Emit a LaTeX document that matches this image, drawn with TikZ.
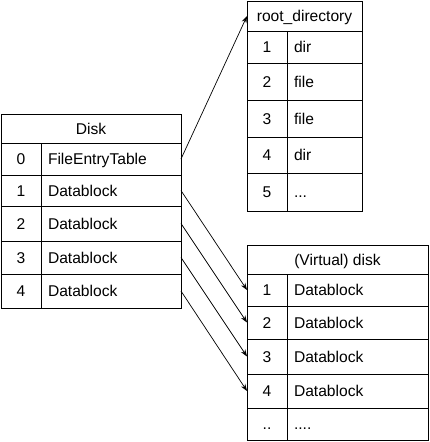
\documentclass[tikz,border=0pt]{standalone}
\usepackage{fontspec}
\setmainfont{Liberation Sans}
\usepackage{tikz}
\usetikzlibrary{positioning}
\usetikzlibrary{arrows.meta}
\tikzset{cell/.style={draw, line width=0.9pt, anchor=north west, outer sep=0pt, inner ysep=0pt,
  text height=11pt, text depth=0pt, font=\fontsize{15.6}{18}\selectfont}}
\tikzset{head/.style={cell, inner xsep=0pt, align=center}}
\tikzset{numcell/.style={cell, inner xsep=0pt, minimum width=40pt, align=center}}
\tikzset{txtcell/.style={cell, inner xsep=7pt, align=left}}
\tikzset{arr/.style={-{Stealth[length=7pt,width=5pt]}, line width=0.7pt}}

\begin{document}
\begin{tikzpicture}[x=1pt,y=-1pt]
\useasboundingbox (0,0) rectangle (429,442);
% Disk
\node[head, minimum width=180pt, minimum height=29pt] (disk) at (1,114) {Disk};
\foreach \i/\t/\y/\h in {0/FileEntryTable/143/32, 1/Datablock/175/31, 2/Datablock/206/35, 3/Datablock/241/33, 4/Datablock/274/34} {
\node[numcell, minimum height=\h pt] (dn\i) at (1,\y) {\i};
\node[txtcell, text width=126pt, minimum height=\h pt] (d\i) at (41,\y) {\t};
}
% root_directory
\node[head, minimum width=115pt, minimum height=30pt] (root) at (247,1) {root\_directory};
\foreach \i/\t/\y/\h in {1/dir/31/32, 2/file/63/37, 3/file/100/37, 4/dir/137/36} {
\node[numcell, minimum height=\h pt] (rn\i) at (247,\y) {\i};
\node[txtcell, text width=61pt, minimum height=\h pt] (r\i) at (287,\y) {\t};
}
\node[numcell, minimum height=38pt] (rn5) at (247,173) {5};
\node[txtcell, text width=61pt, minimum height=38pt] (r5) at (287,173) {...};
% (Virtual) disk
\node[head, minimum width=181pt, minimum height=29pt] (vdisk) at (247,245) {(Virtual) disk};
\foreach \i/\y/\h in {1/274/32, 2/306/33, 3/339/35, 4/374/34} {
\node[numcell, minimum height=\h pt] (vn\i) at (247,\y) {\i};
\node[txtcell, text width=127pt, minimum height=\h pt] (v\i) at (287,\y) {Datablock};
}
\node[numcell, minimum height=32pt] (vn5) at (247,408) {..};
\node[txtcell, text width=127pt, minimum height=32pt] (v5) at (287,408) {....};
% pointers
\draw[arr] (d0.east) -- (root.west);
\foreach \i in {1,...,4} {
\draw[arr] (d\i.east) -- (vn\i.west);
}
\end{tikzpicture}
\end{document}
